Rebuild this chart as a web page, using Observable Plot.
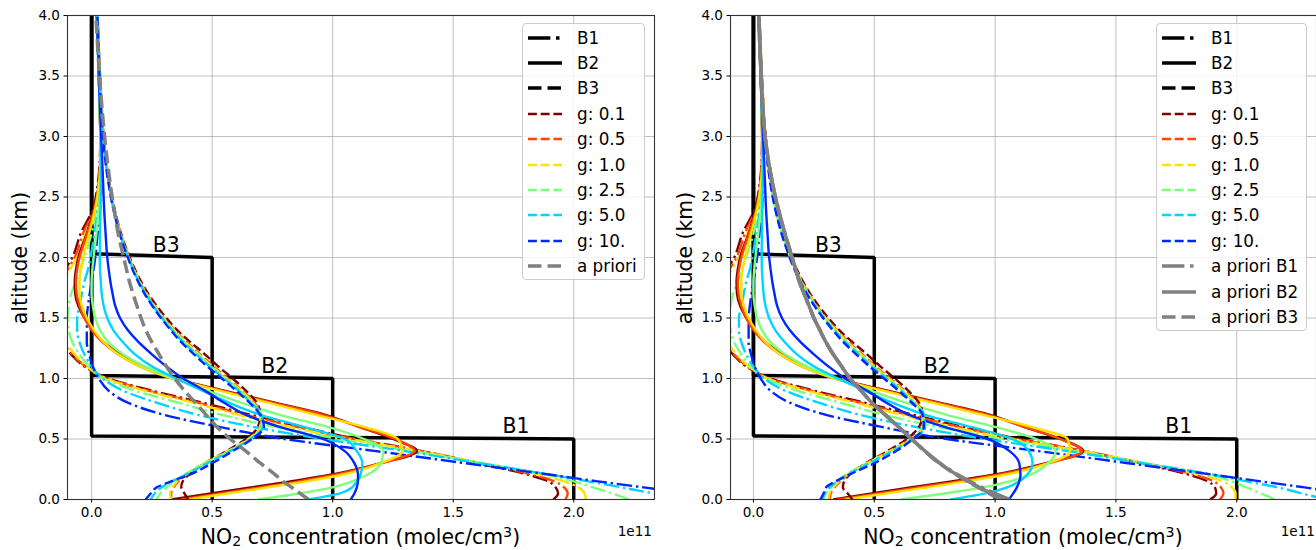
<!DOCTYPE html>
<html><head><meta charset="utf-8">
<script src="https://cdn.jsdelivr.net/npm/d3@7"></script>
<script src="https://cdn.jsdelivr.net/npm/@observablehq/plot@0.6"></script>
<style>
body{margin:0;background:#fff;}
#wrap{position:relative;width:1316px;height:550px;overflow:hidden;font-family:"DejaVu Sans",sans-serif;color:#000;}
.panel{position:absolute;top:0;}
.ylab{position:absolute;font-size:20.4px;line-height:1;white-space:nowrap;transform:translate(-50%,-50%) rotate(-90deg);}
.xlab{position:absolute;font-size:20.4px;line-height:1;white-space:nowrap;transform:translateX(-50%);}
.xlab sub,.xlab sup{font-size:70%;position:relative;vertical-align:baseline;line-height:0}
.xlab sub{top:0.12em}.xlab sup{top:-0.5em}
.offset{position:absolute;font-size:13.6px;line-height:1;transform:translateX(-100%);white-space:nowrap}
.legend{position:absolute;border:1px solid #cccccc;border-radius:4px;background:rgba(255,255,255,0.8);box-sizing:border-box;padding-top:1px}
.legend .row{height:25.4px;display:flex;align-items:center;font-size:16.8px;white-space:nowrap}
.legend svg{display:block;flex:none}
</style></head>
<body>
<div id="wrap"></div>
<script>
// ---------- data ----------
const ALT = [0, 0.05, 0.1, 0.15, 0.2, 0.3, 0.4, 0.5, 0.6, 0.7, 0.8, 0.9, 1.0, 1.1, 1.2, 1.3, 1.4, 1.5, 1.6, 1.7, 1.8, 1.9, 2.0, 2.2, 2.4, 2.6, 2.8, 3.0, 3.5, 4.0];
const gLabels = ["g: 0.1", "g: 0.5", "g: 1.0", "g: 2.5", "g: 5.0", "g: 10."];
const gColors = ["#800000", "#ff4600", "#ffe100", "#7dff7a", "#00d4ff", "#0026ff"];
const boxNames = ["B1", "B2", "B3"];
const xTicks = [0, 0.5, 1.0, 1.5, 2.0];
const yTicks = [0, 0.5, 1.0, 1.5, 2.0, 2.5, 3.0, 3.5, 4.0];

// true box profiles (x in 1e11 molec/cm3, altitude km)
const truthX = [[2.0, 2.0, 0, 0], [1.0, 1.0, 0, 0], [0.5, 0.5, 0, 0]];
const truthAlt = [[0, 0.5, 0.525, 4], [0, 1.0, 1.025, 4], [0, 2.0, 2.03, 4]];

// left panel retrievals, one row per g value
const leftB1 = [
  [1.915, 1.935, 1.925, 1.895, 1.82, 1.6, 1.37, 1.1, 0.87, 0.66, 0.46, 0.25, 0.07, -0.03, -0.085, -0.13, -0.16, -0.175, -0.18, -0.17, -0.145, -0.11, -0.08, -0.045, 0.005, 0.025, 0.034, 0.036, 0.03, 0.022],
  [1.965, 1.975, 1.96, 1.92, 1.84, 1.61, 1.37, 1.09, 0.85, 0.64, 0.44, 0.235, 0.065, -0.025, -0.08, -0.12, -0.15, -0.165, -0.17, -0.16, -0.135, -0.1, -0.07, -0.035, 0.01, 0.028, 0.035, 0.036, 0.03, 0.022],
  [2.05, 2.045, 2.02, 1.96, 1.87, 1.62, 1.36, 1.07, 0.82, 0.61, 0.42, 0.22, 0.06, -0.02, -0.07, -0.11, -0.14, -0.155, -0.155, -0.145, -0.12, -0.09, -0.06, -0.025, 0.012, 0.03, 0.036, 0.036, 0.03, 0.022],
  [2.23, 2.16, 2.08, 2.0, 1.9, 1.62, 1.33, 1.03, 0.76, 0.54, 0.36, 0.18, 0.05, -0.01, -0.05, -0.08, -0.095, -0.1, -0.095, -0.085, -0.065, -0.045, -0.03, 0.0, 0.02, 0.032, 0.037, 0.036, 0.03, 0.022],
  [2.5, 2.335, 2.2, 2.06, 1.92, 1.61, 1.3, 0.96, 0.67, 0.44, 0.27, 0.13, 0.045, 0.0, -0.03, -0.05, -0.06, -0.06, -0.05, -0.04, -0.03, -0.015, -0.005, 0.012, 0.026, 0.035, 0.038, 0.037, 0.03, 0.022],
  [2.66, 2.48, 2.29, 2.1, 1.92, 1.55, 1.18, 0.8, 0.53, 0.3, 0.15, 0.07, 0.03, 0.005, -0.01, -0.02, -0.02, -0.02, -0.015, -0.008, 0.0, 0.008, 0.015, 0.025, 0.035, 0.04, 0.04, 0.038, 0.03, 0.022]
];
const leftB2 = [
  [0.33, 0.495, 0.66, 0.825, 0.98, 1.2, 1.35, 1.25, 1.11, 0.97, 0.76, 0.55, 0.34, 0.21, 0.12, 0.05, 0.005, -0.03, -0.055, -0.068, -0.07, -0.065, -0.055, -0.02, 0.01, 0.03, 0.036, 0.036, 0.03, 0.022],
  [0.37, 0.535, 0.70, 0.86, 1.0, 1.2, 1.34, 1.26, 1.11, 0.96, 0.75, 0.54, 0.335, 0.2, 0.11, 0.045, 0.0, -0.03, -0.05, -0.062, -0.065, -0.06, -0.05, -0.018, 0.012, 0.03, 0.036, 0.036, 0.03, 0.022],
  [0.40, 0.565, 0.73, 0.89, 1.03, 1.2, 1.29, 1.27, 1.13, 0.93, 0.73, 0.53, 0.335, 0.2, 0.11, 0.05, 0.01, -0.02, -0.04, -0.05, -0.05, -0.045, -0.035, -0.01, 0.015, 0.03, 0.036, 0.036, 0.03, 0.022],
  [0.69, 0.86, 1.0, 1.08, 1.14, 1.2, 1.21, 1.13, 0.98, 0.78, 0.62, 0.48, 0.34, 0.22, 0.13, 0.07, 0.035, 0.015, 0.005, 0.0, 0.0, 0.003, 0.008, 0.02, 0.03, 0.036, 0.038, 0.037, 0.03, 0.022],
  [0.9, 1.03, 1.08, 1.1, 1.115, 1.123, 1.1, 1.05, 0.88, 0.7, 0.57, 0.46, 0.35, 0.25, 0.18, 0.13, 0.09, 0.065, 0.05, 0.042, 0.038, 0.035, 0.034, 0.035, 0.037, 0.038, 0.038, 0.037, 0.03, 0.022],
  [1.075, 1.09, 1.10, 1.105, 1.105, 1.09, 1.05, 0.96, 0.78, 0.64, 0.55, 0.47, 0.38, 0.31, 0.25, 0.195, 0.15, 0.118, 0.098, 0.087, 0.078, 0.071, 0.065, 0.058, 0.052, 0.048, 0.044, 0.04, 0.03, 0.022]
];
const leftB3 = [
  [0.40, 0.385, 0.372, 0.378, 0.40, 0.47, 0.56, 0.64, 0.69, 0.70, 0.685, 0.64, 0.585, 0.525, 0.47, 0.41, 0.355, 0.31, 0.27, 0.235, 0.205, 0.18, 0.158, 0.122, 0.095, 0.075, 0.06, 0.05, 0.035, 0.025],
  [0.33, 0.33, 0.34, 0.36, 0.39, 0.47, 0.565, 0.65, 0.70, 0.70, 0.675, 0.625, 0.565, 0.505, 0.45, 0.395, 0.345, 0.3, 0.262, 0.23, 0.2, 0.176, 0.155, 0.12, 0.093, 0.074, 0.06, 0.05, 0.035, 0.025],
  [0.33, 0.325, 0.335, 0.355, 0.385, 0.47, 0.565, 0.65, 0.70, 0.70, 0.67, 0.62, 0.56, 0.5, 0.445, 0.39, 0.342, 0.298, 0.26, 0.228, 0.199, 0.175, 0.154, 0.119, 0.093, 0.074, 0.06, 0.05, 0.035, 0.025],
  [0.27, 0.285, 0.31, 0.34, 0.38, 0.47, 0.57, 0.655, 0.705, 0.705, 0.665, 0.615, 0.555, 0.495, 0.44, 0.385, 0.338, 0.295, 0.258, 0.226, 0.198, 0.174, 0.153, 0.118, 0.092, 0.073, 0.059, 0.049, 0.034, 0.024],
  [0.245, 0.262, 0.29, 0.335, 0.385, 0.48, 0.575, 0.66, 0.71, 0.705, 0.66, 0.61, 0.55, 0.49, 0.435, 0.38, 0.334, 0.292, 0.256, 0.224, 0.196, 0.172, 0.152, 0.117, 0.091, 0.072, 0.058, 0.048, 0.034, 0.024],
  [0.224, 0.245, 0.27, 0.33, 0.4, 0.5, 0.585, 0.665, 0.715, 0.70, 0.655, 0.60, 0.54, 0.48, 0.425, 0.372, 0.328, 0.288, 0.252, 0.22, 0.193, 0.17, 0.15, 0.116, 0.09, 0.071, 0.057, 0.047, 0.033, 0.024]
];
const leftApriori = [0.9, 0.865, 0.83, 0.795, 0.765, 0.70, 0.64, 0.575, 0.52, 0.475, 0.43, 0.385, 0.345, 0.31, 0.28, 0.25, 0.225, 0.205, 0.188, 0.172, 0.157, 0.145, 0.133, 0.11, 0.093, 0.078, 0.065, 0.054, 0.033, 0.018];

// right panel retrievals
const rightB1 = [
  [1.89, 1.915, 1.91, 1.88, 1.81, 1.6, 1.37, 1.1, 0.87, 0.66, 0.46, 0.25, 0.07, -0.03, -0.085, -0.13, -0.16, -0.175, -0.18, -0.17, -0.145, -0.11, -0.08, -0.045, 0.005, 0.025, 0.034, 0.036, 0.03, 0.022],
  [1.93, 1.945, 1.935, 1.905, 1.835, 1.61, 1.37, 1.09, 0.85, 0.64, 0.44, 0.235, 0.065, -0.025, -0.08, -0.12, -0.15, -0.165, -0.17, -0.16, -0.135, -0.1, -0.07, -0.035, 0.01, 0.028, 0.035, 0.036, 0.03, 0.022],
  [1.995, 1.995, 1.98, 1.94, 1.86, 1.62, 1.36, 1.07, 0.82, 0.61, 0.42, 0.22, 0.06, -0.02, -0.07, -0.11, -0.14, -0.155, -0.155, -0.145, -0.12, -0.09, -0.06, -0.025, 0.012, 0.03, 0.036, 0.036, 0.03, 0.022],
  [2.16, 2.1, 2.04, 1.98, 1.895, 1.62, 1.33, 1.03, 0.76, 0.54, 0.36, 0.18, 0.05, -0.01, -0.05, -0.08, -0.095, -0.1, -0.095, -0.085, -0.065, -0.045, -0.03, 0.0, 0.02, 0.032, 0.037, 0.036, 0.03, 0.022],
  [2.37, 2.27, 2.17, 2.04, 1.915, 1.61, 1.3, 0.96, 0.67, 0.44, 0.27, 0.13, 0.045, 0.0, -0.03, -0.05, -0.06, -0.06, -0.05, -0.04, -0.03, -0.015, -0.005, 0.012, 0.026, 0.035, 0.038, 0.037, 0.03, 0.022],
  [2.62, 2.45, 2.28, 2.1, 1.92, 1.55, 1.18, 0.8, 0.53, 0.3, 0.15, 0.07, 0.03, 0.005, -0.01, -0.02, -0.02, -0.02, -0.015, -0.008, 0.0, 0.008, 0.015, 0.025, 0.035, 0.04, 0.04, 0.038, 0.03, 0.022]
];
const rightB2 = [
  [0.33, 0.49, 0.65, 0.82, 0.98, 1.21, 1.365, 1.27, 1.12, 0.98, 0.77, 0.555, 0.34, 0.21, 0.12, 0.05, 0.005, -0.03, -0.055, -0.068, -0.07, -0.065, -0.055, -0.02, 0.01, 0.03, 0.036, 0.036, 0.03, 0.022],
  [0.35, 0.52, 0.68, 0.85, 1.0, 1.22, 1.36, 1.27, 1.12, 0.97, 0.76, 0.545, 0.335, 0.2, 0.11, 0.045, 0.0, -0.03, -0.05, -0.062, -0.065, -0.06, -0.05, -0.018, 0.012, 0.03, 0.036, 0.036, 0.03, 0.022],
  [0.38, 0.55, 0.72, 0.88, 1.03, 1.22, 1.31, 1.3, 1.15, 0.95, 0.74, 0.535, 0.335, 0.2, 0.11, 0.05, 0.01, -0.02, -0.04, -0.05, -0.05, -0.045, -0.035, -0.01, 0.015, 0.03, 0.036, 0.036, 0.03, 0.022],
  [0.61, 0.79, 0.95, 1.06, 1.14, 1.22, 1.25, 1.17, 1.0, 0.8, 0.63, 0.485, 0.34, 0.22, 0.13, 0.07, 0.035, 0.015, 0.005, 0.0, 0.0, 0.003, 0.008, 0.02, 0.03, 0.036, 0.038, 0.037, 0.03, 0.022],
  [0.816, 0.96, 1.05, 1.1, 1.13, 1.155, 1.14, 1.07, 0.9, 0.71, 0.575, 0.46, 0.35, 0.25, 0.18, 0.13, 0.09, 0.065, 0.05, 0.042, 0.038, 0.035, 0.034, 0.035, 0.037, 0.038, 0.038, 0.037, 0.03, 0.022],
  [1.057, 1.075, 1.09, 1.1, 1.105, 1.1, 1.06, 0.97, 0.79, 0.645, 0.55, 0.47, 0.38, 0.31, 0.25, 0.195, 0.15, 0.118, 0.098, 0.087, 0.078, 0.071, 0.065, 0.058, 0.052, 0.048, 0.044, 0.04, 0.03, 0.022]
];
const rightB3 = [
  [0.41, 0.39, 0.37, 0.375, 0.395, 0.465, 0.555, 0.635, 0.685, 0.70, 0.685, 0.64, 0.585, 0.525, 0.47, 0.41, 0.355, 0.31, 0.27, 0.235, 0.205, 0.18, 0.158, 0.122, 0.095, 0.075, 0.06, 0.05, 0.035, 0.025],
  [0.315, 0.32, 0.335, 0.36, 0.39, 0.47, 0.565, 0.65, 0.70, 0.70, 0.675, 0.625, 0.565, 0.505, 0.45, 0.395, 0.345, 0.3, 0.262, 0.23, 0.2, 0.176, 0.155, 0.12, 0.093, 0.074, 0.06, 0.05, 0.035, 0.025],
  [0.31, 0.315, 0.33, 0.355, 0.385, 0.47, 0.565, 0.65, 0.70, 0.70, 0.67, 0.62, 0.56, 0.5, 0.445, 0.39, 0.342, 0.298, 0.26, 0.228, 0.199, 0.175, 0.154, 0.119, 0.093, 0.074, 0.06, 0.05, 0.035, 0.025],
  [0.29, 0.3, 0.32, 0.345, 0.38, 0.47, 0.57, 0.655, 0.705, 0.705, 0.665, 0.615, 0.555, 0.495, 0.44, 0.385, 0.338, 0.295, 0.258, 0.226, 0.198, 0.174, 0.153, 0.118, 0.092, 0.073, 0.059, 0.049, 0.034, 0.024],
  [0.285, 0.295, 0.315, 0.345, 0.385, 0.48, 0.575, 0.66, 0.71, 0.705, 0.66, 0.61, 0.55, 0.49, 0.435, 0.38, 0.334, 0.292, 0.256, 0.224, 0.196, 0.172, 0.152, 0.117, 0.091, 0.072, 0.058, 0.048, 0.034, 0.024],
  [0.277, 0.29, 0.3, 0.34, 0.39, 0.5, 0.59, 0.66, 0.705, 0.70, 0.655, 0.60, 0.54, 0.48, 0.425, 0.372, 0.328, 0.288, 0.252, 0.22, 0.193, 0.17, 0.15, 0.116, 0.09, 0.071, 0.057, 0.047, 0.033, 0.024]
];
const rightAprioriB1 = [1.06, 1.0, 0.945, 0.895, 0.85, 0.772, 0.71, 0.655, 0.6, 0.545, 0.49, 0.445, 0.40, 0.365, 0.33, 0.3, 0.275, 0.25, 0.23, 0.21, 0.19, 0.175, 0.16, 0.13, 0.103, 0.08, 0.062, 0.048, 0.032, 0.022];
const rightAprioriB2 = [1.04, 0.985, 0.935, 0.89, 0.845, 0.77, 0.71, 0.655, 0.6, 0.545, 0.49, 0.445, 0.40, 0.365, 0.33, 0.3, 0.275, 0.25, 0.23, 0.21, 0.19, 0.175, 0.16, 0.13, 0.103, 0.08, 0.062, 0.048, 0.032, 0.022];
const rightAprioriB3 = [1.02, 0.975, 0.93, 0.885, 0.842, 0.768, 0.708, 0.655, 0.6, 0.545, 0.49, 0.445, 0.40, 0.365, 0.33, 0.3, 0.275, 0.25, 0.23, 0.21, 0.19, 0.175, 0.16, 0.13, 0.103, 0.08, 0.062, 0.048, 0.032, 0.022];

// box annotations
const labelX = [1.76, 0.76, 0.31];
const labelAlt = [0.6, 1.1, 2.1];

// ---------- styles ----------
const retrDash = ["15.4,3.8,2.4,3.8", null, "8.9,3.8"];
const legDash = ["22.4,5.6,3.5,5.6", null, "13.5,6"];
const GRAY = "#808080";

function toRows(xs, alts) { return xs.map((x, i) => ({x, alt: alts[i]})); }

function panel({xDomain, marginLeft, marginRight, boxes, aprioris}) {
  const marks = [
    Plot.gridX({ticks: xTicks, stroke: "#b0b0b0", strokeOpacity: 1, strokeWidth: 0.8}),
    Plot.gridY({ticks: yTicks, stroke: "#b0b0b0", strokeOpacity: 1, strokeWidth: 0.8})
  ];
  truthX.forEach((xs, bi) => {
    marks.push(Plot.line(toRows(xs, truthAlt[bi]), {x: "x", y: "alt", stroke: "#000", strokeWidth: 3.5, strokeLinejoin: "miter", strokeLinecap: "butt", clip: true}));
  });
  boxes.forEach((rows, bi) => {
    rows.forEach((vals, gi) => {
      const o = {x: "x", y: "alt", stroke: gColors[gi], strokeWidth: 2.4, strokeLinecap: "butt", curve: "monotone-y", clip: true};
      if (retrDash[bi]) o.strokeDasharray = retrDash[bi];
      marks.push(Plot.line(toRows(vals, ALT), o));
    });
  });
  aprioris.forEach(a => {
    const o = {x: "x", y: "alt", stroke: GRAY, strokeWidth: 3.5, strokeLinecap: "butt", curve: "monotone-y", clip: true};
    if (a.dash) o.strokeDasharray = a.dash;
    marks.push(Plot.line(toRows(a.vals, ALT), o));
  });
  marks.push(Plot.text(boxNames.map((t, i) => ({t, x: labelX[i], alt: labelAlt[i]})), {x: "x", y: "alt", text: "t", fontSize: 20.4, fill: "#000"}));
  marks.push(Plot.frame({stroke: "#333", strokeWidth: 1.1}));
  marks.push(Plot.axisX({ticks: xTicks, tickFormat: d3.format(".1f"), tickSize: 3.5, tickPadding: 4, label: null, fontSize: 13.6}));
  marks.push(Plot.axisY({ticks: yTicks, tickFormat: d3.format(".1f"), tickSize: 3.5, tickPadding: 4, label: null, fontSize: 13.6}));
  return Plot.plot({
    width: 658, height: 550,
    marginLeft, marginRight, marginTop: 15, marginBottom: 51,
    x: {domain: xDomain, label: null},
    y: {domain: [0, 4], label: null},
    style: {fontFamily: "DejaVu Sans", fontSize: "13.6px", color: "#000", background: "transparent"},
    marks
  });
}

const wrap = document.getElementById("wrap");

function place(el, left) {
  const d = document.createElement("div");
  d.className = "panel"; d.style.left = left + "px";
  d.appendChild(el); wrap.appendChild(d);
}

place(panel({
  xDomain: [-0.1, 2.335], marginLeft: 67, marginRight: 4,
  boxes: [leftB1, leftB2, leftB3],
  aprioris: [{vals: leftApriori, dash: "13,5.6"}]
}), 0);

place(panel({
  xDomain: [-0.095, 2.33], marginLeft: 72, marginRight: 0,
  boxes: [rightB1, rightB2, rightB3],
  aprioris: [{vals: rightAprioriB1, dash: "22.4,5.6,3.5,5.6"}, {vals: rightAprioriB2, dash: null}, {vals: rightAprioriB3, dash: "13,5.6"}]
}), 658);

function addText(cls, html, left, top) {
  const d = document.createElement("div");
  d.className = cls; d.innerHTML = html;
  d.style.left = left + "px"; d.style.top = top + "px";
  wrap.appendChild(d);
}
const xLabelHtml = "NO<sub>2</sub> concentration (molec/cm<sup>3</sup>)";
addText("ylab", "altitude (km)", 20, 258);
addText("ylab", "altitude (km)", 685, 258);
addText("xlab", xLabelHtml, 360.5, 527);
addText("xlab", xLabelHtml, 1023, 527);
addText("offset", "1e11", 652, 524.5);
addText("offset", "1e11", 1315, 524.5);

// legends
const legendLeft = [
  {label: "B1", color: "#000", w: 3.5, dash: legDash[0]},
  {label: "B2", color: "#000", w: 3.5, dash: legDash[1]},
  {label: "B3", color: "#000", w: 3.5, dash: legDash[2]},
  ...gLabels.map((l, i) => ({label: l, color: gColors[i], w: 2.4, dash: "8.9,3.8"})),
  {label: "a priori", color: GRAY, w: 3.5, dash: "13.5,6"}
];
const legendRight = [
  ...legendLeft.slice(0, 9),
  {label: "a priori B1", color: GRAY, w: 3.5, dash: legDash[0]},
  {label: "a priori B2", color: GRAY, w: 3.5, dash: null},
  {label: "a priori B3", color: GRAY, w: 3.5, dash: "13.5,6"}
];
function legend(items, left, width) {
  const box = document.createElement("div");
  box.className = "legend";
  box.style.left = left + "px"; box.style.top = "23px";
  box.style.width = width + "px";
  box.style.height = (items.length * 25.4 + 3) + "px";
  items.forEach(it => {
    const row = document.createElement("div");
    row.className = "row";
    const ns = "http://www.w3.org/2000/svg";
    const s = document.createElementNS(ns, "svg");
    s.setAttribute("width", 54); s.setAttribute("height", 12);
    const ln = document.createElementNS(ns, "line");
    ln.setAttribute("x1", 5); ln.setAttribute("x2", 39);
    ln.setAttribute("y1", 6); ln.setAttribute("y2", 6);
    ln.setAttribute("stroke", it.color);
    ln.setAttribute("stroke-width", it.w);
    if (it.dash) ln.setAttribute("stroke-dasharray", it.dash);
    s.appendChild(ln);
    row.appendChild(s);
    const sp = document.createElement("span");
    sp.textContent = it.label;
    row.appendChild(sp);
    box.appendChild(row);
  });
  wrap.appendChild(box);
}
legend(legendLeft, 522, 123);
legend(legendRight, 1156, 151);
</script>
</body></html>
